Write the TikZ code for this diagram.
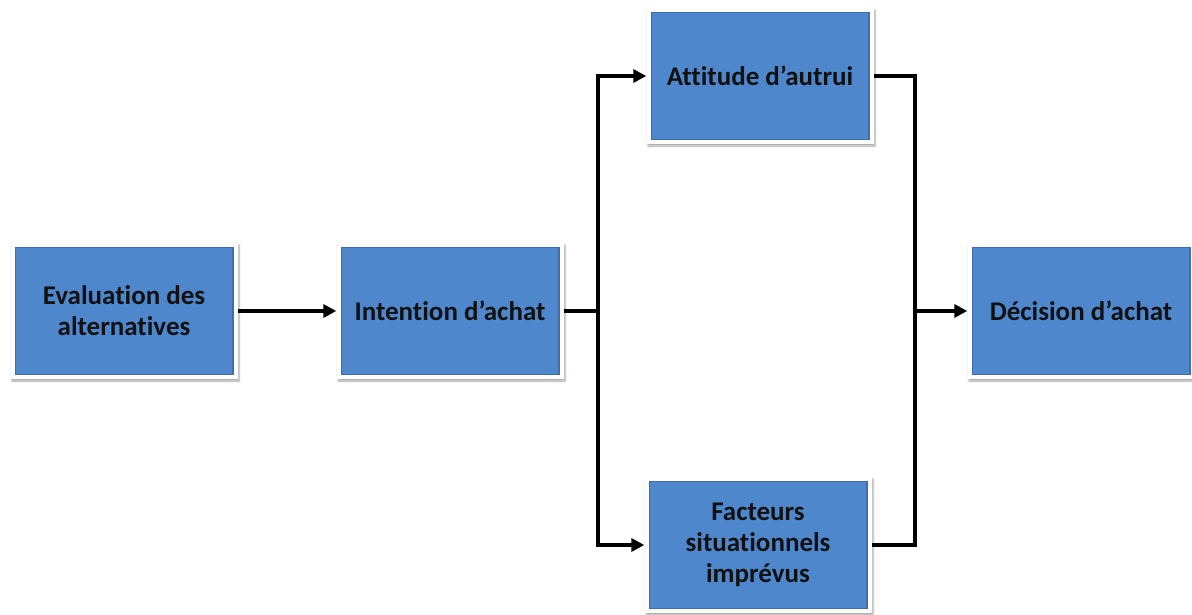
\documentclass[tikz,border=0pt]{standalone}
\usepackage{fontspec}
\setmainfont[Ligatures=NoCommon]{Carlito}
\usetikzlibrary{shadows.blur,arrows.meta}
\definecolor{boxblue}{HTML}{4F87CD}
\definecolor{boxedge}{HTML}{3E6EAC}
\definecolor{textdark}{HTML}{111111}
\tikzset{
  box/.style={rectangle, fill=white, inner sep=0pt, align=center,
    minimum width=227pt, minimum height=136pt,
    font=\bfseries\fontsize{27}{31}\selectfont, text=textdark,
    blur shadow={shadow xshift=1.5pt, shadow yshift=-2pt, shadow blur steps=6, shadow opacity=35},
    path picture={
      \fill[boxblue] ([shift={(4pt,4pt)}]path picture bounding box.south west)
        rectangle ([shift={(-4pt,-4pt)}]path picture bounding box.north east);
      \draw[boxedge, line width=1.2pt] ([shift={(4.6pt,4.6pt)}]path picture bounding box.south west)
        rectangle ([shift={(-4.6pt,-4.6pt)}]path picture bounding box.north east);
    }},
  conn/.style={line width=3.6pt, black},
  arr/.style={conn, -{Triangle[length=13pt, width=13pt]}}
}
\begin{document}
\begin{tikzpicture}[x=1pt, y=-1pt]
  \useasboundingbox (0,0) rectangle (1192,614);
  \node[box] (eval) at (124,311) {Evaluation des\\alternatives};
  \node[box] (inten) at (450,311) {Intention d’achat};
  \node[box] (attit) at (760,76) {Attitude d’autrui};
  \node[box] (fact) at (758,545) {Facteurs\\situationnels\\imprévus};
  \node[box] (decis) at (1081,311) {Décision d’achat};
  \coordinate (split) at (598,311);
  \coordinate (join) at (915,311);
  \draw[arr] (eval) -- (inten);
  \draw[conn] (inten.east) -- (split);
  \draw[arr] (split) |- (attit.west);
  \draw[arr] (split) |- (fact.west);
  \draw[conn] (attit.east) -| (join);
  \draw[conn] (fact.east) -| (join);
  \draw[arr] (join) -- (decis.west);
\end{tikzpicture}
\end{document}
